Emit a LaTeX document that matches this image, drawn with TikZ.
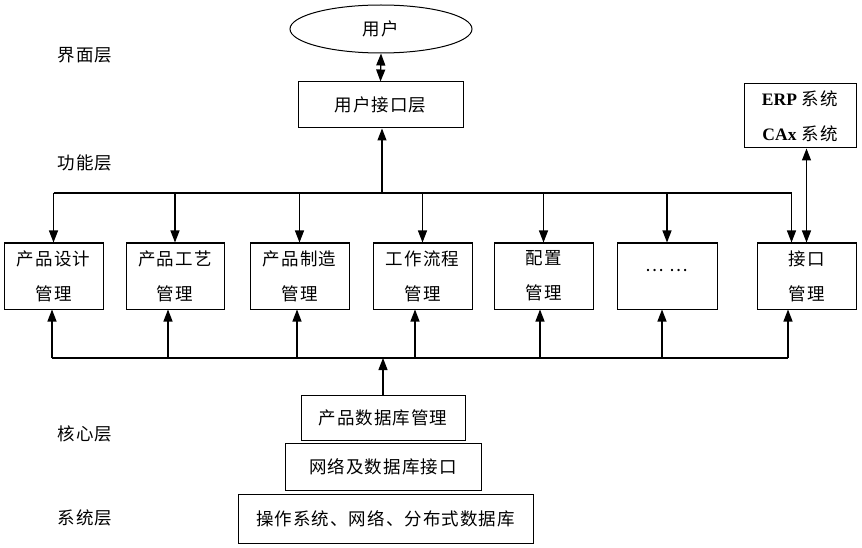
\documentclass[tikz,border=0pt]{standalone}
\usepackage{fontspec}
\setmainfont{Liberation Serif}
\newfontfamily\cjk[LetterSpace=6]{Noto Sans CJK SC}
\usetikzlibrary{arrows.meta,calc,shapes.geometric}
\begin{document}
\begin{tikzpicture}[x=1pt,y=-1pt,
  every node/.style={font=\cjk\fontsize{17.5}{35}\selectfont, inner sep=0pt, align=center},
  box/.style={draw, line width=1pt},
  lbl/.style={},
  arr/.style={-{Triangle[length=12pt,width=9pt]}, line width=1.2pt},
  dbl/.style={{Triangle[length=12pt,width=9pt]}-{Triangle[length=12pt,width=9pt]}, line width=1.2pt},
  bus/.style={line width=1.2pt}]
\useasboundingbox (0,0) rectangle (862,548);
\fill[white] (0,0) rectangle (862,548);

% layer labels
\node[lbl] (l1) at (85,55) {界面层};
\node[lbl] (l2) at (85,163) {功能层};
\node[lbl] (l3) at (85,434) {核心层};
\node[lbl] (l4) at (85,518) {系统层};

% top
\node[box, ellipse, minimum width=182pt, minimum height=48pt] (user) at (381,29) {用户};
\node[box, minimum width=165pt, minimum height=46pt] (ui) at (380.5,105) {用户接口层};
\node[box, minimum width=112pt, minimum height=64pt] (erp) at (800,116)
  {{\fontspec{Liberation Serif}\bfseries ERP} 系统\\{\fontspec{Liberation Serif}\bfseries CAx} 系统};

% function modules
\node[box, minimum width=99pt, minimum height=66pt] (b1) at (53.5,276) {产品设计\\管理};
\node[box, minimum width=98pt, minimum height=66pt] (b2) at (175,276) {产品工艺\\管理};
\node[box, minimum width=99pt, minimum height=66pt] (b3) at (299.5,276) {产品制造\\管理};
\node[box, minimum width=99pt, minimum height=66pt] (b4) at (422.5,276) {工作流程\\管理};
\node[box, minimum width=99pt, minimum height=66pt] (b5) at (543.5,276) {配置\\管理};
\node[box, minimum width=100pt, minimum height=66pt] (b6) at (667,276) {\raisebox{12pt}{…\hspace{6pt}…}};
\node[box, minimum width=99pt, minimum height=66pt] (b7) at (806.5,276) {接口\\管理};

% core & system
\node[box, minimum width=164pt, minimum height=45pt] (pdm) at (383,417.5) {产品数据库管理};
\node[box, minimum width=196pt, minimum height=47pt] (net) at (383,466.5) {网络及数据库接口};
\node[box, minimum width=295pt, minimum height=49pt] (os) at (385.5,518.5) {操作系统、网络、分布式数据库};

% connectors top
\draw[dbl] (user.south) -- (ui.north);
\coordinate (tb) at (382,193);
\draw[arr] (tb) -- (tb |- ui.south);
\draw[bus] (b1.north |- tb) -- ([xshift=-15pt]b7.north |- tb);
\draw[arr] ([xshift=-15pt]b7.north |- tb) -- ([xshift=-15pt]b7.north);
\foreach \b in {b1,b2,b3,b4,b5,b6} \draw[arr] (\b.north |- tb) -- (\b.north);
\draw[dbl] (b7.north |- erp.south) -- (b7.north);

% connectors bottom
\coordinate (bb) at (383,358);
\draw[arr] (pdm.north) -- (pdm.north |- bb);
\draw[bus] ([xshift=-1.5pt]b1.south |- bb) -- ([xshift=-18.5pt]b7.south |- bb);
\foreach \b/\s in {b1/-1.5,b2/-7,b3/-2.5,b4/-7.5,b5/-3.5,b6/-5,b7/-18.5}
  \draw[arr] ([xshift=\s pt]\b.south |- bb) -- ([xshift=\s pt]\b.south);
\end{tikzpicture}
\end{document}
